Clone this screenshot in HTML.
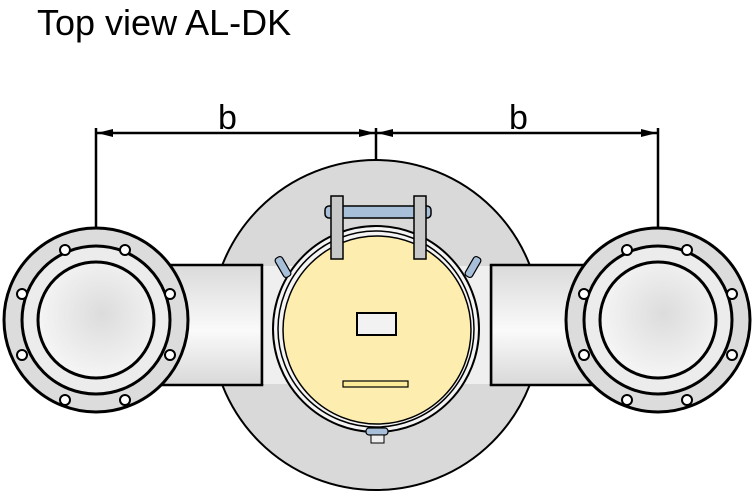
<!DOCTYPE html>
<html><head><style>body{margin:0;background:#fff}svg{display:block}</style></head>
<body>
<svg width="756" height="496" viewBox="0 0 756 496" xmlns="http://www.w3.org/2000/svg">
<defs>
<radialGradient id="rg" cx="0.55" cy="0.45" r="0.6"><stop offset="0" stop-color="#dcdcdc"/><stop offset="1" stop-color="#f7f7f7"/></radialGradient>
<linearGradient id="pg" x1="0" y1="0" x2="0" y2="1"><stop offset="0" stop-color="#dadada"/><stop offset="0.55" stop-color="#fafafa"/><stop offset="1" stop-color="#d8d8d8"/></linearGradient>
</defs>
<text x="37" y="35" font-family="Liberation Sans, sans-serif" font-size="36" fill="#000">Top view AL-DK</text>
<!-- dimensions -->
<g stroke="#000" stroke-width="2.5" fill="none">
<line x1="96" y1="133" x2="658" y2="133"/>
<line x1="96" y1="128" x2="96" y2="232"/>
<line x1="658" y1="128" x2="658" y2="232"/>
<line x1="376" y1="128" x2="376" y2="162"/>
</g>
<g fill="#000">
<polygon points="97,133 113,129 113,137"/>
<polygon points="375,133 359,129 359,137"/>
<polygon points="377,133 393,129 393,137"/>
<polygon points="657,133 641,129 641,137"/>
</g>
<text x="218" y="129" font-family="Liberation Sans, sans-serif" font-size="34">b</text>
<text x="509" y="129" font-family="Liberation Sans, sans-serif" font-size="34">b</text>
<!-- big circle -->
<circle cx="376" cy="325" r="165" fill="#d9d9d9" stroke="#000" stroke-width="2"/>
<!-- pipes -->
<rect x="160" y="265" width="102" height="120" fill="url(#pg)" stroke="#000" stroke-width="2.5"/>
<rect x="491" y="265" width="105" height="120" fill="url(#pg)" stroke="#000" stroke-width="2.5"/>
<rect x="262" y="266" width="229" height="118" fill="#efefef"/>
<line x1="262" y1="265" x2="262" y2="385" stroke="#000" stroke-width="2.5"/>
<line x1="491" y1="265" x2="491" y2="385" stroke="#000" stroke-width="2.5"/>
<!-- hatch -->
<circle cx="376" cy="329" r="103" fill="#f4f4f4" stroke="#000" stroke-width="2"/>
<circle cx="376" cy="329" r="98" fill="none" stroke="#000" stroke-width="1.5"/>
<circle cx="377" cy="330" r="94" fill="#fdeeb0" stroke="#000" stroke-width="1.5"/>
<rect x="357" y="313" width="39" height="22" fill="#f2f2f2" stroke="#000" stroke-width="2"/>
<rect x="343" y="381" width="65" height="6" fill="#fdeb9a" stroke="#000" stroke-width="1.2"/>
<!-- clamp top -->
<rect x="325" y="206" width="106" height="12" rx="4" fill="#a7bfd8" stroke="#000" stroke-width="1.5"/>
<rect x="331" y="196" width="12" height="63" fill="#c8c8c8" stroke="#000" stroke-width="1.5"/>
<rect x="414" y="196" width="12" height="63" fill="#c8c8c8" stroke="#000" stroke-width="1.5"/>
<!-- small clamps -->
<g fill="#a7bfd8" stroke="#000" stroke-width="1.2">
<rect x="272" y="263" width="22" height="8" rx="3" transform="rotate(60 283 267)"/>
<rect x="462" y="263" width="22" height="8" rx="3" transform="rotate(-60 473 267)"/>
<rect x="366" y="428" width="22" height="7" rx="3"/>
</g>
<rect x="371" y="435" width="13" height="8" fill="#eee" stroke="#000" stroke-width="1"/>
<!-- flanges -->
<g>
<circle cx="96" cy="320" r="92" fill="#dcdcdc" stroke="#000" stroke-width="3"/>
<circle cx="96" cy="320" r="74" fill="#ececec" stroke="#000" stroke-width="3"/>
<circle cx="96" cy="320" r="58" fill="url(#rg)" stroke="#000" stroke-width="3"/>
</g>
<g>
<circle cx="658" cy="320" r="92" fill="#dcdcdc" stroke="#000" stroke-width="3"/>
<circle cx="658" cy="320" r="74" fill="#ececec" stroke="#000" stroke-width="3"/>
<circle cx="658" cy="320" r="58" fill="url(#rg)" stroke="#000" stroke-width="3"/>
</g>
<g fill="#fff" stroke="#000" stroke-width="2">
<circle cx="65" cy="250" r="5"/><circle cx="125" cy="250" r="5"/>
<circle cx="22" cy="294" r="5"/><circle cx="170" cy="294" r="5"/>
<circle cx="22" cy="355" r="5"/><circle cx="170" cy="355" r="5"/>
<circle cx="65" cy="400" r="5"/><circle cx="125" cy="400" r="5"/>
<circle cx="627" cy="250" r="5"/><circle cx="687" cy="250" r="5"/>
<circle cx="584" cy="294" r="5"/><circle cx="732" cy="294" r="5"/>
<circle cx="584" cy="355" r="5"/><circle cx="732" cy="355" r="5"/>
<circle cx="627" cy="400" r="5"/><circle cx="687" cy="400" r="5"/>
</g>
</svg>
</body></html>
